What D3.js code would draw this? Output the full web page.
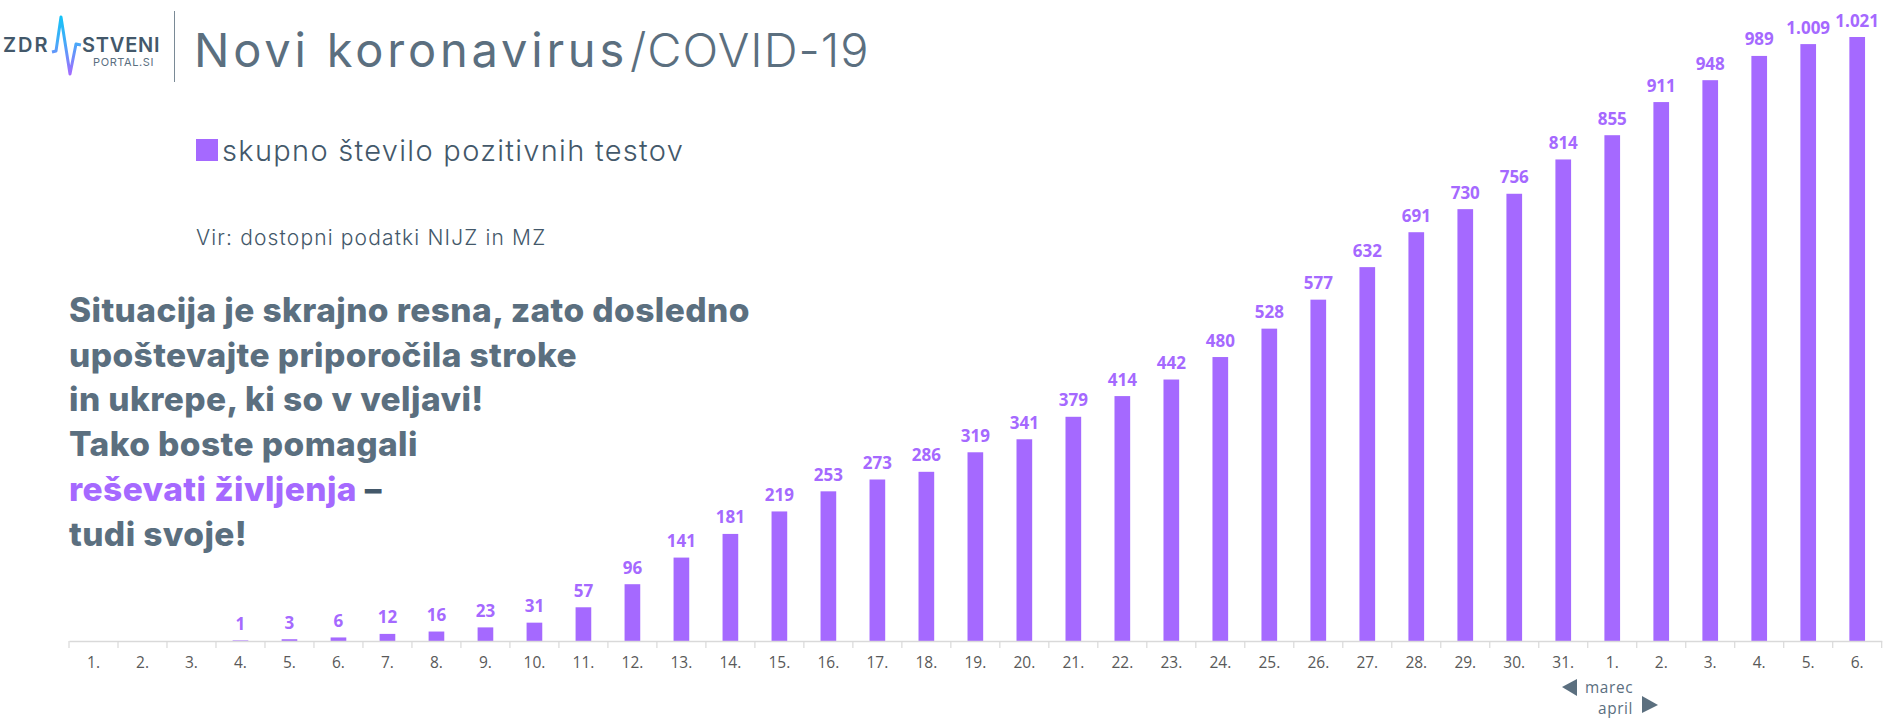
<!DOCTYPE html>
<html>
<head>
<meta charset="utf-8">
<script src="https://cdnjs.cloudflare.com/ajax/libs/d3/7.8.5/d3.min.js"></script>
<style>
html, body { margin: 0; padding: 0; background: #fff; }
svg { display: block; }
text { font-family: Inter, sans-serif; }
.tick-label, .value-label, .month-label { font-family: "Open Sans", sans-serif; }
</style>
</head>
<body>
<svg id="chart" width="1890" height="720"></svg>
<script>
const days = ['1.','2.','3.','4.','5.','6.','7.','8.','9.','10.','11.','12.','13.','14.','15.','16.','17.','18.','19.','20.','21.','22.','23.','24.','25.','26.','27.','28.','29.','30.','31.','1.','2.','3.','4.','5.','6.'];
const positives = [null,null,null,1,3,6,12,16,23,31,57,96,141,181,219,253,273,286,319,341,379,414,442,480,528,577,632,691,730,756,814,855,911,948,989,1009,1021];
const messageLines = [
    'Situacija je skrajno resna, zato dosledno',
    'upoštevajte priporočila stroke',
    'in ukrepe, ki so v veljavi!',
    'Tako boste pomagali'
];

const PURPLE = '#a569ff';
const SLATE = '#5b6f7f';
const DARK = '#43586a';

const svg = d3.select('#chart');
const axisY = 641;

const x = d3.scaleBand()
    .domain(d3.range(days.length))
    .range([69, 1881.7])
    .paddingInner(0.68)
    .paddingOuter(0.34);
const y = d3.scaleLinear().domain([0, 1021]).range([axisY, 37]);
const fmt = d3.formatLocale({decimal: ',', thousands: '.', grouping: [3], currency: ['', '']}).format(',d');

// bars and labels
const shown = positives.map((v, i) => ({v: v, i: i})).filter(d => d.v !== null);

svg.selectAll('.bar')
    .data(shown)
  .enter().append('rect')
    .attr('class', 'bar')
    .attr('x', d => x(d.i))
    .attr('width', x.bandwidth())
    .attr('y', d => y(d.v))
    .attr('height', d => axisY - y(d.v))
    .attr('fill', PURPLE);

svg.selectAll('.value-label')
    .data(shown)
  .enter().append('text')
    .attr('class', 'value-label')
    .attr('x', d => x(d.i) + x.bandwidth() / 2)
    .attr('y', d => y(d.v) - 10.5)
    .attr('text-anchor', 'middle')
    .attr('font-size', 17)
    .attr('font-weight', 700)
    .attr('fill', PURPLE)
    .text(d => fmt(d.v));

// x axis
const axis = svg.append('g')
    .attr('transform', 'translate(0,' + axisY + ')')
    .call(d3.axisBottom(x).tickSize(0).tickPadding(16).tickFormat(i => days[i]));
axis.select('.domain').attr('stroke', '#d9d9d9').attr('stroke-width', 1.5);
axis.selectAll('text')
    .attr('class', 'tick-label')
    .attr('font-size', 15.5)
    .attr('fill', '#595959');

svg.selectAll('.tick-mark')
    .data(d3.range(days.length + 1))
  .enter().append('line')
    .attr('class', 'tick-mark')
    .attr('x1', i => x.range()[0] + i * x.step())
    .attr('x2', i => x.range()[0] + i * x.step())
    .attr('y1', axisY)
    .attr('y2', axisY + 7)
    .attr('stroke', '#d9d9d9')
    .attr('stroke-width', 1.2);

// month marks
svg.append('path').attr('d', 'M1562,687L1577,679L1577,696Z').attr('fill', SLATE);
svg.append('path').attr('d', 'M1658,705L1642,696L1642,713Z').attr('fill', SLATE);
svg.append('text').attr('class', 'month-label').attr('x', 1585).attr('y', 693)
    .attr('font-size', 15.4).attr('letter-spacing', 0.6).attr('fill', SLATE).text('marec');
svg.append('text').attr('class', 'month-label').attr('x', 1598).attr('y', 714)
    .attr('font-size', 15.4).attr('letter-spacing', 0.6).attr('fill', SLATE).text('april');

// header
svg.append('text').attr('x', 194).attr('y', 67)
    .attr('font-size', 47).attr('letter-spacing', 3.8).attr('fill', SLATE)
    .text('Novi koronavirus');
svg.append('text').attr('x', 630).attr('y', 67)
    .attr('font-size', 47).attr('font-weight', 300).attr('letter-spacing', 1).attr('fill', SLATE)
    .text('/COVID-19');

// legend and source
svg.append('rect').attr('x', 196).attr('y', 139).attr('width', 22).attr('height', 22).attr('fill', PURPLE);
svg.append('text').attr('x', 222).attr('y', 161)
    .attr('font-size', 29).attr('font-weight', 300).attr('letter-spacing', 1.3).attr('fill', DARK)
    .text('skupno število pozitivnih testov');
svg.append('text').attr('x', 196).attr('y', 245)
    .attr('font-size', 21).attr('font-weight', 300).attr('letter-spacing', 1.15).attr('fill', DARK)
    .text('Vir: dostopni podatki NIJZ in MZ');

// message
const msg = svg.append('g')
    .attr('font-size', 33.5)
    .attr('font-weight', 800)
    .attr('letter-spacing', 0.4)
    .attr('fill', SLATE);
messageLines.forEach((line, i) => {
    msg.append('text').attr('x', 69).attr('y', 321.7 + i * 44.8).text(line);
});
const rescue = msg.append('text').attr('x', 69).attr('y', 500.9);
rescue.append('tspan').attr('fill', PURPLE).text('reševati življenja');
rescue.append('tspan').attr('fill', DARK).text(' –');
msg.append('text').attr('x', 69).attr('y', 545.7).text('tudi svoje!');

// logo
const defs = svg.append('defs');
const grad = defs.append('linearGradient').attr('id', 'pulse')
    .attr('gradientUnits', 'userSpaceOnUse')
    .attr('x1', 0).attr('x2', 0).attr('y1', 16).attr('y2', 75);
grad.append('stop').attr('offset', '0%').attr('stop-color', '#12c3f7');
grad.append('stop').attr('offset', '45%').attr('stop-color', '#45aaf8');
grad.append('stop').attr('offset', '100%').attr('stop-color', PURPLE);

svg.append('path')
    .attr('d', 'M52,52L56,51L61,17L70,74L76,44L81,45')
    .attr('fill', 'none')
    .attr('stroke', 'url(#pulse)')
    .attr('stroke-width', 3)
    .attr('stroke-linejoin', 'round');
svg.append('text').attr('x', 3).attr('y', 52).attr('font-size', 20).attr('font-weight', 600)
    .attr('letter-spacing', 2).attr('fill', DARK).text('ZDR');
svg.append('text').attr('x', 82).attr('y', 52).attr('font-size', 20).attr('font-weight', 600)
    .attr('letter-spacing', 0.8).attr('fill', DARK).text('STVENI');
svg.append('text').attr('x', 93).attr('y', 66).attr('font-size', 11)
    .attr('letter-spacing', 0.6).attr('fill', SLATE).text('PORTAL.SI');
svg.append('line').attr('x1', 174.5).attr('x2', 174.5).attr('y1', 11).attr('y2', 82)
    .attr('stroke', '#7a8a96').attr('stroke-width', 1);
</script>
</body>
</html>
